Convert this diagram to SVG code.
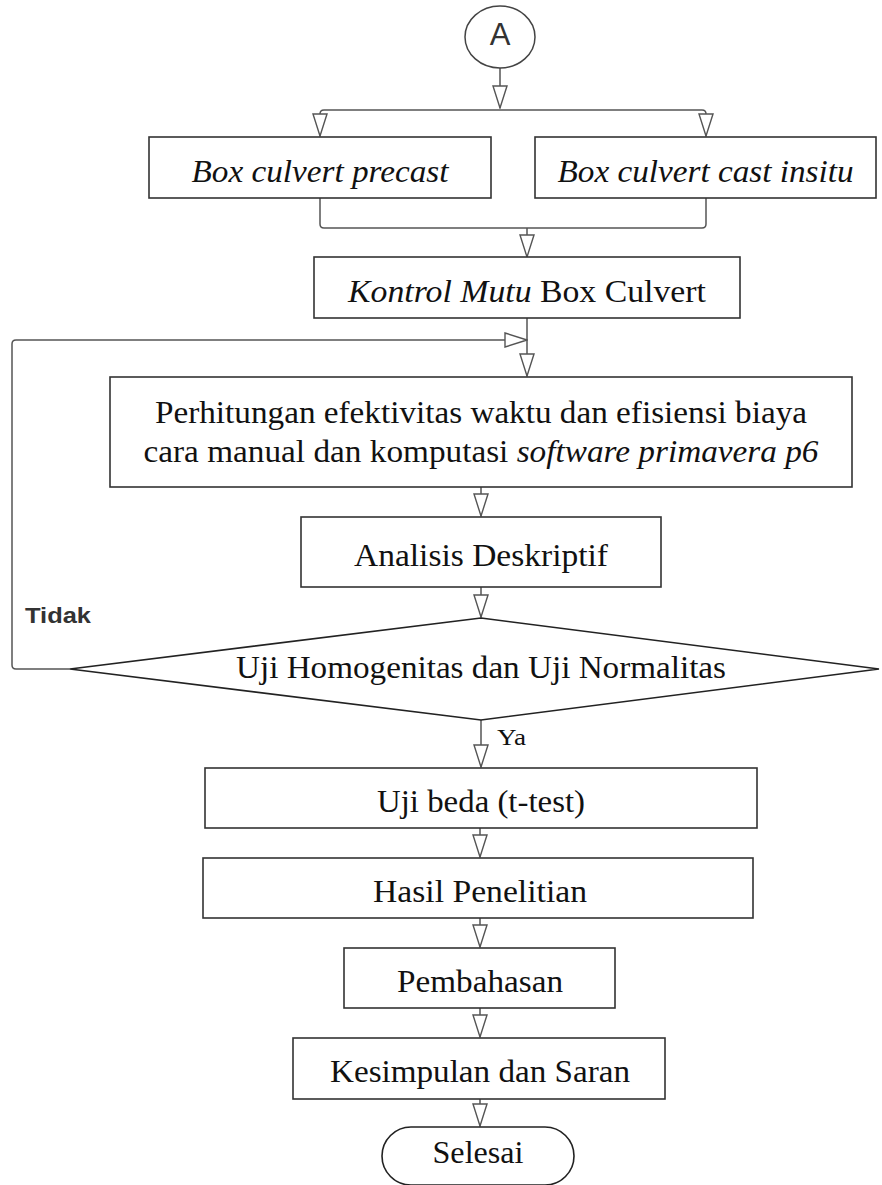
<svg xmlns="http://www.w3.org/2000/svg" width="882" height="1185" viewBox="0 0 882 1185">
<style>
.box{fill:#fff;stroke:#333;stroke-width:1.6}
.con{fill:none;stroke:#555;stroke-width:1.5;stroke-linejoin:round}
.t{font-family:"Liberation Serif","Times New Roman",serif;font-size:31px;fill:#111;text-anchor:middle}
.i{font-style:italic}
.s{font-family:"Liberation Sans",Arial,sans-serif}
</style>
<defs>
<marker id="ah" viewBox="-1 -1 24 16" refX="22" refY="7" markerWidth="24" markerHeight="16" markerUnits="userSpaceOnUse" orient="auto">
<path d="M0,0 L22,7 L0,14 Z" fill="#fff" stroke="#555" stroke-width="1.4" stroke-linejoin="miter"/>
</marker>
</defs>
<rect width="882" height="1185" fill="#fff"/>
<g id="connectors">
<path class="con" d="M500,68 V108" marker-end="url(#ah)"/>
<path class="con" d="M500,110 H324 Q320,110 320,114 V136" marker-end="url(#ah)"/>
<path class="con" d="M500,110 H702 Q706,110 706,114 V136" marker-end="url(#ah)"/>
<path class="con" d="M320,198 V224 Q320,228 324,228 H702 Q706,228 706,224 V198"/>
<path class="con" d="M527,228 V257" marker-end="url(#ah)"/>
<path class="con" d="M527,318 V376" marker-end="url(#ah)"/>
<path class="con" d="M70,669 H16 Q12,669 12,665 V344 Q12,340 16,340 H527" marker-end="url(#ah)"/>
<path class="con" d="M481,487 V516" marker-end="url(#ah)"/>
<path class="con" d="M481,587 V617" marker-end="url(#ah)"/>
<path class="con" d="M481,720 V767" marker-end="url(#ah)"/>
<path class="con" d="M480,828 V857" marker-end="url(#ah)"/>
<path class="con" d="M480,918 V947" marker-end="url(#ah)"/>
<path class="con" d="M480,1008 V1037" marker-end="url(#ah)"/>
<path class="con" d="M480,1099 V1126" marker-end="url(#ah)"/>
<text class="t s" x="25" y="623" style="text-anchor:start;font-weight:bold;font-size:22px;fill:#333" textLength="66" lengthAdjust="spacingAndGlyphs">Tidak</text>
<text class="t" x="497" y="745" style="text-anchor:start;font-size:24px" textLength="29" lengthAdjust="spacingAndGlyphs">Ya</text>
</g>
<g id="start">
<ellipse cx="500" cy="37" rx="35" ry="31" fill="#fff" stroke="#444" stroke-width="1.5"/>
<text class="t s" x="500" y="45" style="font-size:31px;fill:#333">A</text>
</g>
<g id="precast">
<rect class="box" x="149" y="137" width="342" height="61"/>
<text class="t i" x="320" y="182" textLength="257" lengthAdjust="spacingAndGlyphs">Box culvert precast</text>
</g>
<g id="insitu">
<rect class="box" x="535" y="137" width="341" height="61"/>
<text class="t i" x="705.5" y="182" textLength="296" lengthAdjust="spacingAndGlyphs">Box culvert cast insitu</text>
</g>
<g id="kontrol">
<rect class="box" x="314" y="257" width="426" height="61"/>
<text class="t" x="527" y="302" textLength="358" lengthAdjust="spacingAndGlyphs"><tspan class="i">Kontrol Mutu</tspan> Box Culvert</text>
</g>
<g id="perhitungan">
<rect class="box" x="110" y="377" width="742" height="110"/>
<text class="t" x="481" y="423" textLength="652" lengthAdjust="spacingAndGlyphs">Perhitungan efektivitas waktu dan efisiensi biaya</text>
<text class="t" x="481" y="462" textLength="675" lengthAdjust="spacingAndGlyphs">cara manual dan komputasi <tspan class="i">software primavera p6</tspan></text>
</g>
<g id="analisis">
<rect class="box" x="301" y="517" width="360" height="70"/>
<text class="t" x="481" y="566" textLength="254" lengthAdjust="spacingAndGlyphs">Analisis Deskriptif</text>
</g>
<g id="uji">
<polygon points="481,618 879,669 481,720 70,669" fill="#fff" stroke="#222" stroke-width="1.6"/>
<text class="t" x="481" y="678" style="font-size:32px" textLength="490" lengthAdjust="spacingAndGlyphs">Uji Homogenitas dan Uji Normalitas</text>
</g>
<g id="ujibeda">
<rect class="box" x="205" y="768" width="552" height="60"/>
<text class="t" x="481" y="812" textLength="208" lengthAdjust="spacingAndGlyphs">Uji beda (t-test)</text>
</g>
<g id="hasil">
<rect class="box" x="203" y="858" width="550" height="60"/>
<text class="t" x="480" y="902" textLength="214" lengthAdjust="spacingAndGlyphs">Hasil Penelitian</text>
</g>
<g id="pembahasan">
<rect class="box" x="344" y="948" width="271" height="60"/>
<text class="t" x="480" y="992" textLength="166" lengthAdjust="spacingAndGlyphs">Pembahasan</text>
</g>
<g id="kesimpulan">
<rect class="box" x="293" y="1038" width="372" height="61"/>
<text class="t" x="480" y="1082" textLength="300" lengthAdjust="spacingAndGlyphs">Kesimpulan dan Saran</text>
</g>
<g id="selesai">
<rect x="382" y="1127" width="192" height="58" rx="29" ry="29" fill="#fff" stroke="#222" stroke-width="1.6"/>
<text class="t" x="478" y="1163" textLength="91" lengthAdjust="spacingAndGlyphs">Selesai</text>
</g>
</svg>
